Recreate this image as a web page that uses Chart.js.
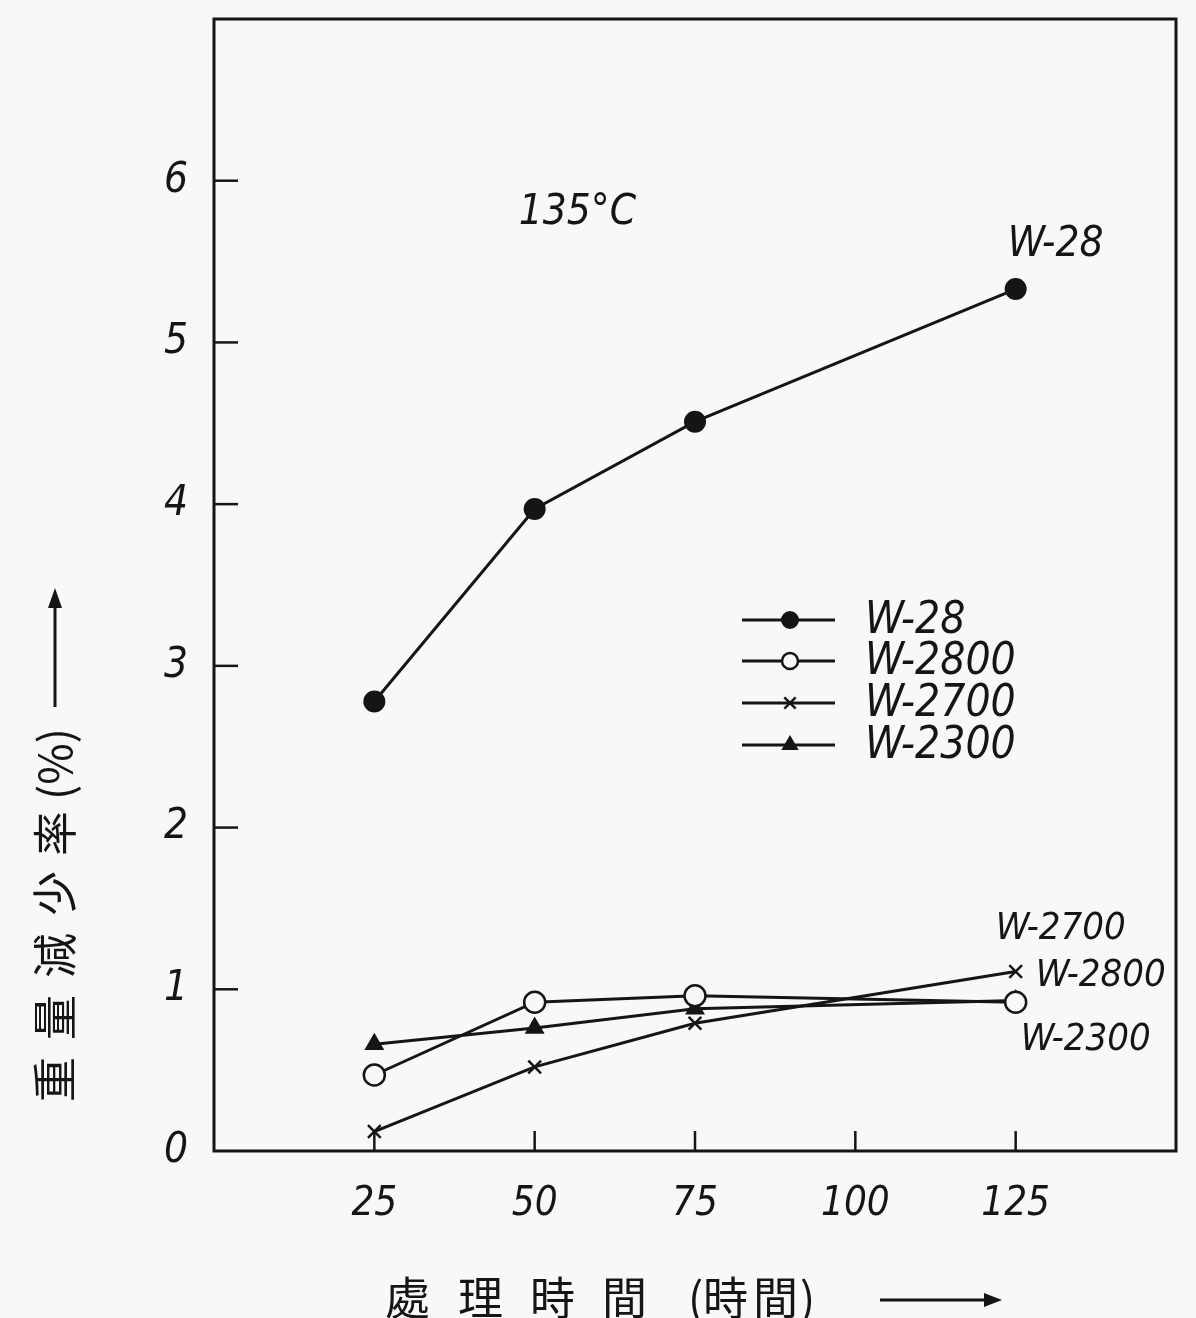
<!DOCTYPE html>
<html lang="ja">
<head>
<meta charset="UTF-8">
<title>135°C 重量減少率</title>
<script src="https://cdn.jsdelivr.net/npm/chart.js@4.4.1/dist/chart.umd.min.js"></script>
<style>
    body { margin: 0; background: #f8f8f6; }
    #wrap { width: 1196px; height: 1318px; }
</style>
</head>
<body>
<div id="wrap"><canvas id="chart" width="1196" height="1318"></canvas></div>
<script>
// data
const hours = [25, 50, 75, 125];
const w28 = [2.78, 3.97, 4.51, 5.33];
const w2800 = [0.47, 0.92, 0.96, 0.92];
const w2700 = [0.12, 0.52, 0.79, 1.11];
const w2300 = [0.66, 0.76, 0.88, 0.93];
const seriesNames = ['W-28', 'W-2800', 'W-2700', 'W-2300'];
const xTicks = [25, 50, 75, 100, 125];
const yTicks = [0, 1, 2, 3, 4, 5, 6];

const INK = '#151515';
const BG = '#f8f8f6';
const numFont = "'Liberation Sans Narrow', 'DejaVu Sans Condensed', 'Liberation Sans', sans-serif";
const cjkFont = "'Noto Sans CJK JP', 'Noto Sans CJK SC', sans-serif";

function pts(ys) {
    return hours.map((h, i) => ({ x: h, y: ys[i] }));
}

const styles = [
    { pointStyle: 'circle', radius: 10, fill: INK, borderWidth: 2 },
    { pointStyle: 'circle', radius: 10.5, fill: BG, borderWidth: 2.5 },
    { pointStyle: 'crossRot', radius: 9, fill: INK, borderWidth: 2.5 },
    { pointStyle: 'triangle', radius: 9.5, fill: INK, borderWidth: 2 }
];

const datasets = [w28, w2800, w2700, w2300].map((ys, i) => ({
    label: seriesNames[i],
    data: pts(ys),
    borderColor: INK,
    borderWidth: 3,
    backgroundColor: styles[i].fill,
    pointStyle: styles[i].pointStyle,
    pointRadius: styles[i].radius,
    pointBorderWidth: styles[i].borderWidth,
    pointBackgroundColor: styles[i].fill,
    pointBorderColor: INK,
    tension: 0,
    fill: false
}));

const extras = {
    id: 'extras',
    beforeDraw(chart) {
        const ctx = chart.ctx;
        ctx.save();
        ctx.fillStyle = BG;
        ctx.fillRect(0, 0, chart.width, chart.height);
        ctx.restore();
    },
    afterDraw(chart) {
        const ctx = chart.ctx;
        const a = chart.chartArea;
        const xs = chart.scales.x, ys = chart.scales.y;
        ctx.save();
        ctx.strokeStyle = INK;
        ctx.fillStyle = INK;

        // frame
        ctx.lineWidth = 3;
        ctx.strokeRect(a.left, a.top, a.right - a.left, a.bottom - a.top);

        // inward ticks
        ctx.lineWidth = 2.5;
        yTicks.slice(1).forEach(v => {
            const y = ys.getPixelForValue(v);
            ctx.beginPath(); ctx.moveTo(a.left, y); ctx.lineTo(a.left + 24, y); ctx.stroke();
        });
        xTicks.forEach(v => {
            const x = xs.getPixelForValue(v);
            ctx.beginPath(); ctx.moveTo(x, a.bottom); ctx.lineTo(x, a.bottom - 20); ctx.stroke();
        });

        // legend inside the plot
        const rows = [620, 661, 703, 745];
        chart.data.datasets.forEach((ds, i) => {
            const y = rows[i];
            ctx.lineWidth = 3;
            ctx.beginPath(); ctx.moveTo(742, y); ctx.lineTo(835, y); ctx.stroke();
            ctx.fillStyle = styles[i].fill;
            ctx.lineWidth = styles[i].borderWidth;
            Chart.helpers.drawPoint(ctx, {
                pointStyle: styles[i].pointStyle,
                radius: 8,
                borderWidth: styles[i].borderWidth,
                rotation: 0
            }, 790, y);
            ctx.fillStyle = INK;
            ctx.font = 'italic 44px ' + numFont;
            ctx.textBaseline = 'middle';
            ctx.textAlign = 'left';
            ctx.fillText(ds.label, 865, y + 2);
        });

        // annotations
        ctx.fillStyle = INK;
        ctx.textBaseline = 'middle';
        ctx.textAlign = 'left';
        ctx.font = 'italic 42px ' + numFont;
        ctx.fillText('135°C', xs.getPixelForValue(47.5), ys.getPixelForValue(5.8));
        const last = hours.length - 1;
        const px = xs.getPixelForValue(hours[last]);
        ctx.font = 'italic 42px ' + numFont;
        ctx.fillText('W-28', px - 8, ys.getPixelForValue(w28[last]) - 44);
        ctx.font = 'italic 38px ' + numFont;
        ctx.fillText('W-2700', px - 20, ys.getPixelForValue(w2700[last]) - 42);
        ctx.fillText('W-2800', px + 20, ys.getPixelForValue(w2800[last]) - 26);
        ctx.fillText('W-2300', px + 5, ys.getPixelForValue(w2300[last]) + 40);

        // x axis title with arrow
        ctx.font = '45px ' + cjkFont;
        ctx.textAlign = 'left';
        const xChars = [['處', 385], ['理', 458], ['時', 530], ['間', 602], ['(', 688], ['時', 703], ['間', 753], [')', 800]];
        xChars.forEach(([c, x]) => ctx.fillText(c, x, 1298));
        ctx.lineWidth = 3;
        ctx.beginPath(); ctx.moveTo(880, 1300); ctx.lineTo(990, 1300); ctx.stroke();
        ctx.beginPath(); ctx.moveTo(1002, 1300); ctx.lineTo(984, 1293); ctx.lineTo(984, 1307); ctx.closePath(); ctx.fill();

        // y axis title, rotated, with arrow
        ctx.save();
        ctx.translate(55, 1102);
        ctx.rotate(-Math.PI / 2);
        ctx.font = '45px ' + cjkFont;
        const yChars = [['重', 0], ['量', 62], ['減', 124], ['少', 186], ['率', 246], ['(%)', 302]];
        yChars.forEach(([c, x]) => ctx.fillText(c, x, 0));
        ctx.lineWidth = 3;
        ctx.beginPath(); ctx.moveTo(395, 0); ctx.lineTo(500, 0); ctx.stroke();
        ctx.beginPath(); ctx.moveTo(514, 0); ctx.lineTo(494, -7); ctx.lineTo(494, 7); ctx.closePath(); ctx.fill();
        ctx.restore();

        ctx.restore();
    }
};

new Chart(document.getElementById('chart').getContext('2d'), {
    type: 'line',
    data: { datasets: datasets },
    options: {
        responsive: false,
        animation: false,
        layout: { padding: { top: 19, right: 20, left: 0, bottom: 0 } },
        plugins: { legend: { display: false }, tooltip: { enabled: false } },
        scales: {
            x: {
                type: 'linear',
                min: 0,
                max: 150,
                afterBuildTicks: s => { s.ticks = xTicks.map(v => ({ value: v })); },
                afterFit: s => { s.height = 167; s.paddingLeft = 0; s.paddingRight = 0; },
                grid: { display: false, drawTicks: false },
                border: { display: false },
                ticks: {
                    color: INK,
                    padding: 30,
                    maxRotation: 0,
                    font: { family: numFont, size: 40, style: 'italic' }
                }
            },
            y: {
                min: 0,
                max: 7,
                afterBuildTicks: s => { s.ticks = yTicks.map(v => ({ value: v })); },
                afterFit: s => { s.width = 214; s.paddingTop = 0; s.paddingBottom = 0; },
                grid: { display: false, drawTicks: false },
                border: { display: false },
                ticks: {
                    color: INK,
                    padding: 26,
                    font: { family: numFont, size: 42, style: 'italic' }
                }
            }
        }
    },
    plugins: [extras]
});
</script>
</body>
</html>
